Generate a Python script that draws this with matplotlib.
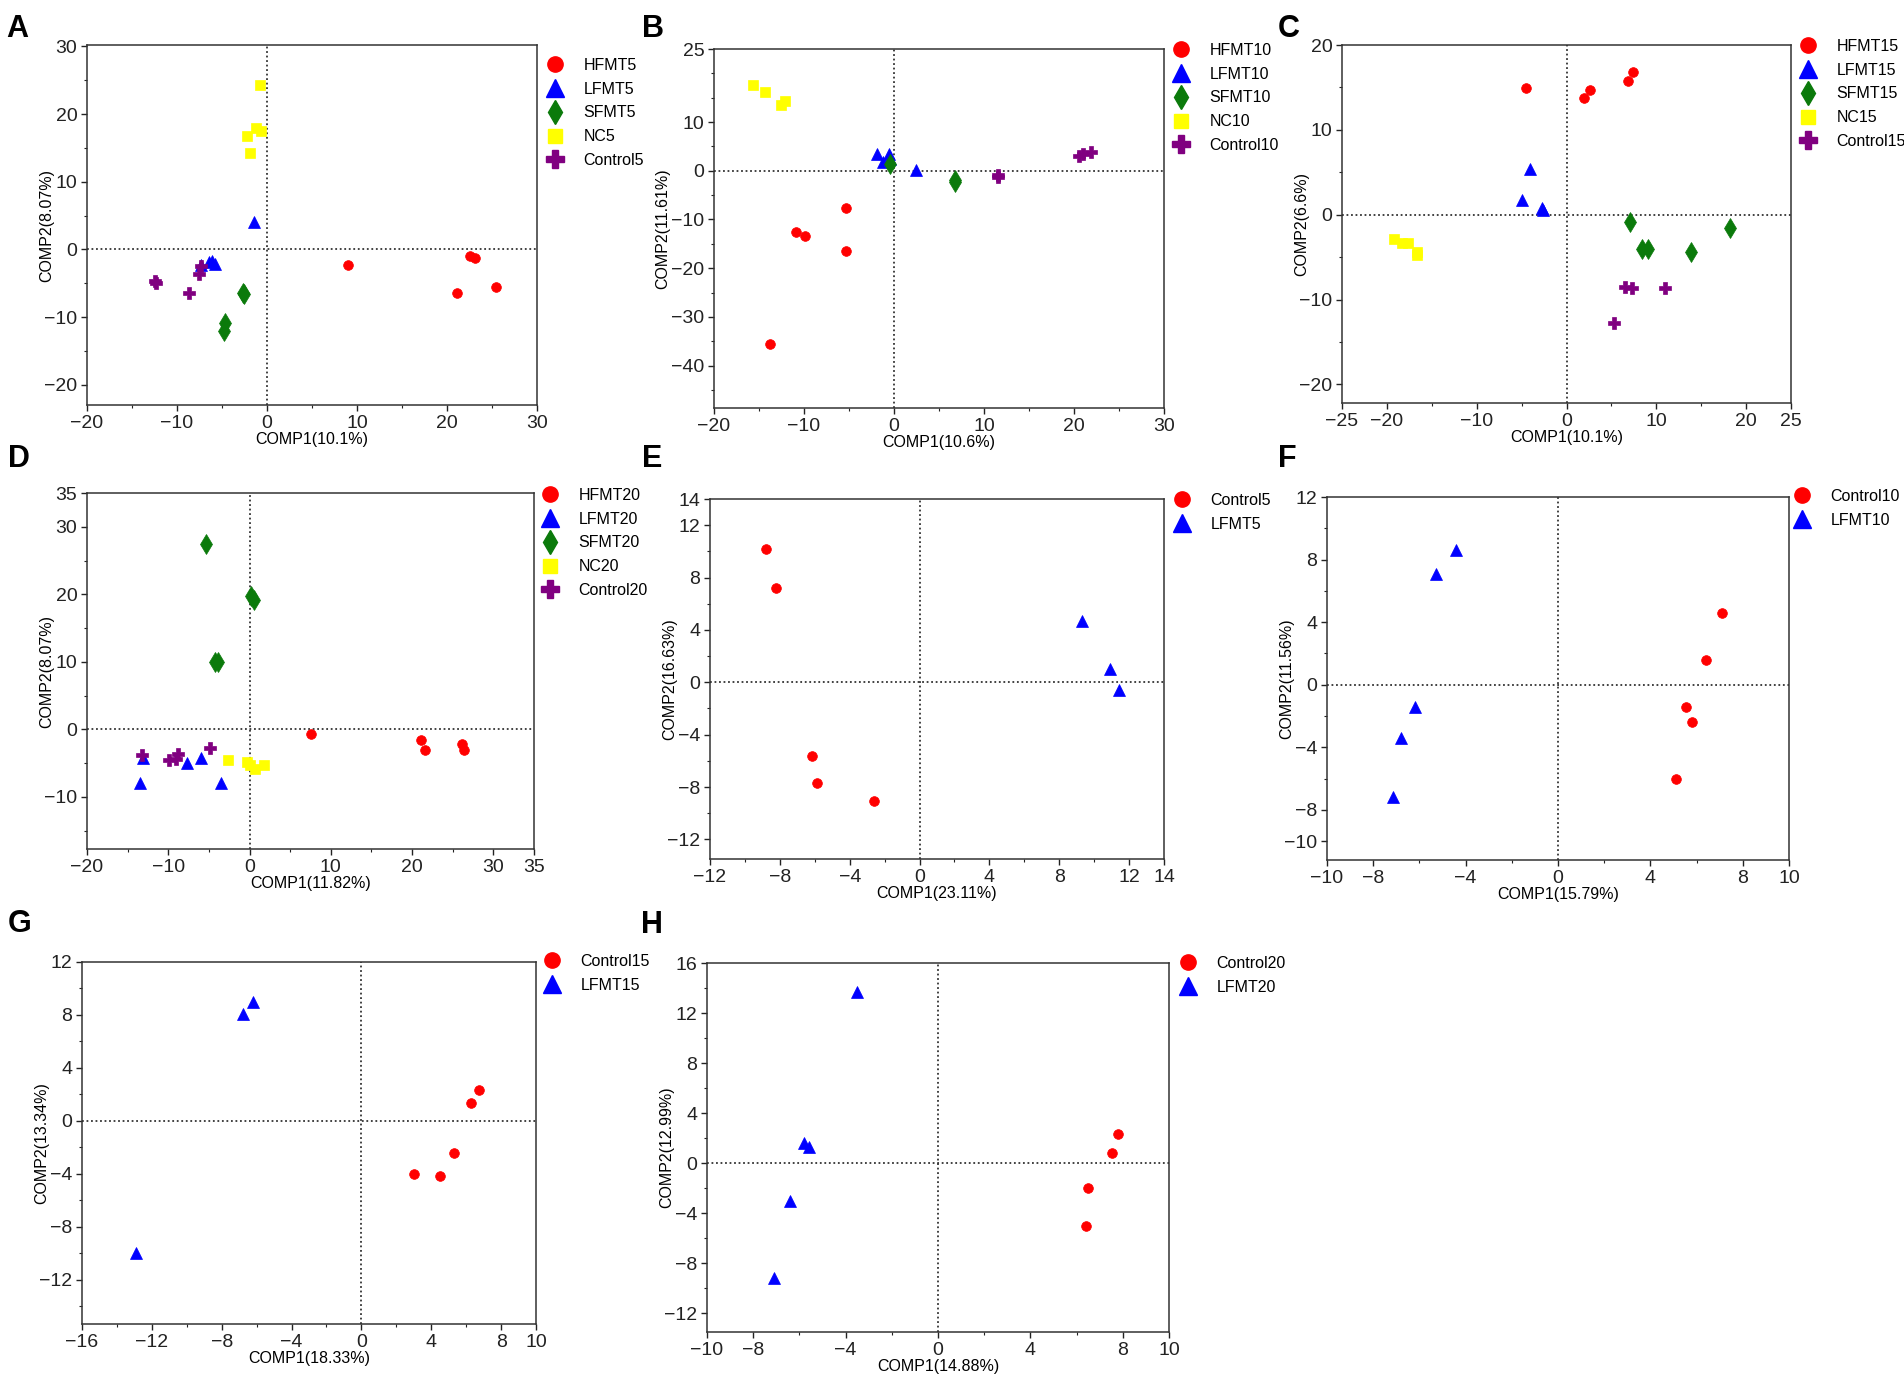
import numpy as np
import matplotlib
matplotlib.use("Agg")
import matplotlib.pyplot as plt
from matplotlib.ticker import MultipleLocator
from matplotlib.lines import Line2D

plt.rcParams['font.family'] = ['Liberation Sans', 'DejaVu Sans']

# ---- data ----
# panel A (day 5, five groups)
A_names = ["HFMT5", "LFMT5", "SFMT5", "NC5", "Control5"]
A_x = [[9.0, 22.6, 23.1, 21.1, 25.4],
       [-1.5, -7.3, -6.4, -6.1, -5.8],
       [-2.7, -2.6, -4.7, -4.8],
       [-0.8, -2.2, -1.2, -0.7, -1.9],
       [-12.5, -12.3, -8.7, -7.6, -7.3]]
A_y = [[-2.3, -1.0, -1.3, -6.4, -5.5],
       [4.0, -2.3, -1.9, -1.7, -2.1],
       [-6.4, -6.6, -10.9, -12.1],
       [24.3, 16.7, 18.0, 17.5, 14.2],
       [-4.7, -4.9, -6.4, -3.7, -2.5]]

# panel B (day 10)
B_names = ["HFMT10", "LFMT10", "SFMT10", "NC10", "Control10"]
B_x = [[-5.3, -10.9, -9.9, -5.3, -13.8],
       [-1.9, -0.6, -1.2, -0.4, 2.4],
       [-0.5, 6.8, 6.8],
       [-15.7, -14.3, -12.6, -12.1],
       [11.5, 11.6, 20.6, 21.0, 21.9]]
B_y = [[-7.7, -12.6, -13.3, -16.4, -35.6],
       [3.4, 3.4, 1.8, 2.5, 0.1],
       [1.4, -1.8, -2.3],
       [17.6, 16.1, 13.6, 14.4],
       [-0.9, -1.2, 3.1, 3.4, 3.8]]

# panel C (day 15)
C_names = ["HFMT15", "LFMT15", "SFMT15", "NC15", "Control15"]
C_x = [[-4.5, 1.9, 2.6, 6.9, 7.4],
       [-4.1, -4.9, -2.7, -2.6],
       [7.1, 8.4, 9.1, 13.9, 18.2],
       [-19.2, -18.3, -17.7, -16.7, -16.7],
       [6.5, 7.3, 11.0, 5.3]]
C_y = [[14.9, 13.8, 14.7, 15.8, 16.8],
       [5.4, 1.7, 0.8, 0.6],
       [-0.9, -4.0, -4.0, -4.4, -1.6],
       [-2.9, -3.3, -3.3, -4.7, -4.4],
       [-8.5, -8.7, -8.6, -12.8]]

# panel D (day 20)
D_names = ["HFMT20", "LFMT20", "SFMT20", "NC20", "Control20"]
D_x = [[7.5, 21.1, 21.6, 26.1, 26.4],
       [-13.5, -13.1, -7.7, -6.0, -3.5],
       [-5.3, 0.2, 0.5, -4.2, -3.9],
       [-2.6, -0.35, 0.1, 0.65, 1.8],
       [-13.2, -9.9, -9.1, -8.8, -4.9]]
D_y = [[-0.7, -1.5, -3.0, -2.1, -3.0],
       [-7.9, -4.2, -4.9, -4.3, -7.9],
       [27.5, 19.7, 19.2, 10.0, 10.0],
       [-4.5, -4.8, -5.3, -5.9, -5.2],
       [-3.8, -4.5, -4.4, -3.7, -2.7]]

# panels E-H (Control vs LFMT)
E_names = ["Control5", "LFMT5"]
E_x = [[-8.8, -8.2, -6.15, -5.9, -2.6], [9.3, 10.9, 11.4]]
E_y = [[10.2, 7.2, -5.6, -7.7, -9.1], [4.7, 1.0, -0.6]]

F_names = ["Control10", "LFMT10"]
F_x = [[7.1, 6.4, 5.55, 5.8, 5.1], [-4.4, -5.3, -6.2, -6.8, -7.15]]
F_y = [[4.6, 1.6, -1.4, -2.4, -6.0], [8.6, 7.1, -1.4, -3.4, -7.2]]

G_names = ["Control15", "LFMT15"]
G_x = [[6.75, 6.3, 5.3, 3.0, 4.5], [-6.2, -6.8, -12.9]]
G_y = [[2.3, 1.35, -2.4, -4.0, -4.2], [9.0, 8.1, -9.95]]

H_names = ["Control20", "LFMT20"]
H_x = [[7.8, 7.55, 6.5, 6.4], [-3.5, -5.8, -5.6, -6.4, -7.1]]
H_y = [[2.3, 0.8, -2.0, -5.0], [13.7, 1.6, 1.3, -3.0, -9.2]]

# ---- styles ----
colors = ["#ff0000", "#0000ff", "#0b7a0b", "#ffff00", "#800080"]
markers = ["o", "^", "d", "s", "P"]
ms_plot = [7, 9, 10, 6.5, 9]
ms_leg = [11, 13, 12, 10, 13]

W, H = 1904, 1379
fig = plt.figure(figsize=(W / 100, H / 100), dpi=100)
fig.patch.set_facecolor("white")


def panel(letter, letter_xy, box, names, xs, ys, styles, xlim, ylim,
          xticks, yticks, xminor, yminor, xlab, ylab, leg_xy, ylab_off=33):
    l, t, r, b = box
    ax = fig.add_axes([l / W, 1 - b / H, (r - l) / W, (b - t) / H])
    ax.axhline(0, color="#333333", ls=(0, (1, 1.5)), lw=1.3, zorder=1)
    ax.axvline(0, color="#333333", ls=(0, (1, 1.5)), lw=1.3, zorder=1)
    for x, y, s in zip(xs, ys, styles):
        ax.plot(x, y, ls="none", marker=markers[s], ms=ms_plot[s],
                color=colors[s], mec=colors[s], mew=0.5, zorder=3)
    ax.set_xlim(xlim)
    ax.set_ylim(ylim)
    ax.set_xticks(xticks)
    ax.set_yticks(yticks)
    ax.xaxis.set_minor_locator(MultipleLocator(xminor))
    ax.yaxis.set_minor_locator(MultipleLocator(yminor))
    ax.tick_params(which="major", direction="out", length=4, width=1,
                   labelsize=14, pad=3, colors="#222222")
    ax.tick_params(which="minor", direction="out", length=2.5, width=0.8,
                   colors="#222222")
    for sp in ax.spines.values():
        sp.set_color("#333333")
        sp.set_linewidth(1.1)
    ax.set_xlabel(xlab, fontsize=11.5)
    ax.set_ylabel(ylab, fontsize=11.5)
    ax.xaxis.set_label_coords(0.5, -27 / (b - t))
    ax.yaxis.set_label_coords(-ylab_off / (r - l), 0.5)
    handles = [Line2D([], [], ls="none", marker=markers[s], ms=ms_leg[s],
                      color=colors[s], mec=colors[s]) for s in styles]
    mx, my = leg_xy
    ax.legend(handles, names, loc="upper left", frameon=False,
              bbox_to_anchor=((mx - 11.2) / W, 1 - (my - 9.2) / H),
              bbox_transform=fig.transFigure, fontsize=11.5,
              borderpad=0, borderaxespad=0, handlelength=1.4,
              handletextpad=1.1, labelspacing=0.55)
    fig.text(letter_xy[0] / W, 1 - letter_xy[1] / H, letter, fontsize=22,
             fontweight="bold", ha="left", va="baseline")
    return ax


five = [0, 1, 2, 3, 4]
two = [0, 1]

panel("A", (6, 37), (87, 45, 537, 405), A_names, A_x, A_y, five,
      (-20, 30), (-23, 30.2), [-20, -10, 0, 10, 20, 30],
      [-20, -10, 0, 10, 20, 30], 5, 5, "COMP1(10.1%)", "COMP2(8.07%)",
      (555, 67))
panel("B", (642, 37), (714, 49, 1164, 408), B_names, B_x, B_y, five,
      (-20, 30), (-48.7, 25), [-20, -10, 0, 10, 20, 30],
      [-40, -30, -20, -10, 0, 10, 25], 5, 5, "COMP1(10.6%)", "COMP2(11.61%)",
      (1181, 52), ylab_off=44)
panel("C", (1278, 37), (1342, 45, 1791, 403), C_names, C_x, C_y, five,
      (-25, 25), (-22.2, 20), [-25, -20, -10, 0, 10, 20, 25],
      [-20, -10, 0, 10, 20], 5, 5, "COMP1(10.1%)", "COMP2(6.6%)",
      (1808, 48))
panel("D", (8, 467), (87, 493, 534, 849), D_names, D_x, D_y, five,
      (-20, 35), (-17.7, 35), [-20, -10, 0, 10, 20, 30, 35],
      [-10, 0, 10, 20, 30, 35], 5, 5, "COMP1(11.82%)", "COMP2(8.07%)",
      (550, 497))
panel("E", (642, 467), (710, 499, 1164, 859), E_names, E_x, E_y, two,
      (-12, 14), (-13.5, 14), [-12, -8, -4, 0, 4, 8, 12, 14],
      [-12, -8, -4, 0, 4, 8, 12, 14], 2, 2, "COMP1(23.11%)", "COMP2(16.63%)",
      (1182, 502))
panel("F", (1278, 467), (1327, 497, 1789, 860), F_names, F_x, F_y, two,
      (-10, 10), (-11.2, 12), [-10, -8, -4, 0, 4, 8, 10],
      [-10, -8, -4, 0, 4, 8, 12], 2, 2, "COMP1(15.79%)", "COMP2(11.56%)",
      (1802, 498))
panel("G", (8, 932), (82, 962, 536, 1324), G_names, G_x, G_y, two,
      (-16, 10), (-15.35, 12), [-16, -12, -8, -4, 0, 4, 8, 10],
      [-12, -8, -4, 0, 4, 8, 12], 2, 2, "COMP1(18.33%)", "COMP2(13.34%)",
      (552, 963))
panel("H", (641, 933), (707, 963, 1169, 1332), H_names, H_x, H_y, two,
      (-10, 10), (-13.5, 16), [-10, -8, -4, 0, 4, 8, 10],
      [-12, -8, -4, 0, 4, 8, 12, 16], 2, 2, "COMP1(14.88%)", "COMP2(12.99%)",
      (1188, 965))

fig.savefig("out.png", dpi=100)
